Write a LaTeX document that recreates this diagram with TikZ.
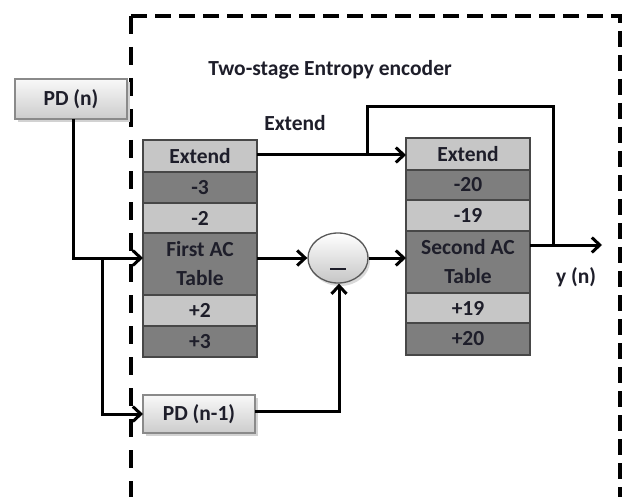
\documentclass[tikz,border=0pt]{standalone}
\usepackage{fontspec}
\setmainfont{Carlito}
\usetikzlibrary{arrows.meta,shapes.geometric,calc}
\definecolor{txt}{HTML}{1E1E2A}
\definecolor{rowlight}{HTML}{C6C6C6}
\definecolor{rowdark}{HTML}{7E7E7E}
\definecolor{rowedge}{HTML}{474747}
\definecolor{boxedge}{HTML}{8A8A8A}
\begin{document}
\begin{tikzpicture}[x=1pt,y=-1pt,
  every node/.style={font=\fontsize{21.5}{29}\selectfont\bfseries, text=txt},
  cell/.style={draw=rowedge, line width=1.8pt, inner sep=0pt, outer sep=0pt,
    anchor=north west, align=center},
  lightcell/.style={cell, fill=rowlight},
  darkcell/.style={cell, fill=rowdark},
  pdbox/.style={draw=boxedge, line width=1.3pt, inner sep=0pt, outer sep=0pt,
    top color=white!95!gray, bottom color=gray!40, anchor=north west},
  arr/.style={line width=3pt, -{Straight Barb[length=8pt,width=15pt,line width=3pt]}},
  wire/.style={line width=3pt}
]
\path[use as bounding box] (0,0) rectangle (628,497);

% encoder boundary
\draw[line width=4.5pt, dash pattern=on 16pt off 8pt] (131,16) -- (620,16) -- (620,497);
\draw[line width=4.5pt, dash pattern=on 18pt off 13pt] (131,16) -- (131,497);

% title and labels
\node (title) at (330,70) {Two-stage Entropy encoder};
\node (extlbl) at (295,123) {Extend};
\node (ylbl) at (576,277) {y (n)};

% input boxes
\fill[gray!35] (18,82) rectangle (130,122);
\node[pdbox, minimum width=112pt, minimum height=40pt] (pdn) at (15,79) {PD (n)};
\fill[gray!35] (146,398) rectangle (258,436);
\node[pdbox, minimum width=112pt, minimum height=38pt] (pdn1) at (143,395) {PD (n-1)};

% first lookup table
\node[lightcell, minimum width=114pt, minimum height=32pt] (e1) at (143,140) {Extend};
\node[darkcell,  minimum width=114pt, minimum height=31pt] (m3) at (143,172) {-3};
\node[lightcell, minimum width=114pt, minimum height=30pt] (m2) at (143,203) {-2};
\node[darkcell,  minimum width=114pt, minimum height=62pt] (t1) at (143,233) {First AC\\Table};
\node[lightcell, minimum width=114pt, minimum height=31pt] (p2) at (143,295) {+2};
\node[darkcell,  minimum width=114pt, minimum height=31pt] (p3) at (143,326) {+3};

% second lookup table
\node[lightcell, minimum width=124pt, minimum height=32pt] (e2) at (406,138) {Extend};
\node[darkcell,  minimum width=124pt, minimum height=30pt] (m20) at (406,170) {-20};
\node[lightcell, minimum width=124pt, minimum height=31pt] (m19) at (406,200) {-19};
\node[darkcell,  minimum width=124pt, minimum height=62pt] (t2) at (406,231) {Second AC\\Table};
\node[lightcell, minimum width=124pt, minimum height=30pt] (p19) at (406,293) {+19};
\node[darkcell,  minimum width=124pt, minimum height=32pt] (p20) at (406,323) {+20};

% subtractor
\fill[gray!30] (340,261) ellipse (30pt and 25pt);
\node[ellipse, draw=gray!70!black, line width=1.3pt, top color=white, bottom color=gray!45,
  minimum width=60pt, minimum height=50pt, inner sep=0pt] (sub) at (338,258) {};
\draw[line width=2.8pt, draw=txt] (330,269) -- (346,269);

% junction points
\coordinate (inbr) at (102,258);
\coordinate (extbr) at (367,155);
\coordinate (extup) at (367,107);
\coordinate (loopc) at (553,107);
\coordinate (outj) at (553,245);
\coordinate (yend) at (602,245);
\coordinate (mincorner) at (339,411);

% connectors
\draw[arr] (pdn.south -| 73,0) |- (inbr) -- (t1.west |- inbr);
\draw[arr] (inbr) |- (pdn1.west);
\draw[arr] (t1.east |- sub.west) -- (sub.west);
\draw[arr] (sub.east) -- (t2.west |- sub.east);
\draw[arr] (pdn1.east |- mincorner) -- (mincorner) -- (sub.south -| mincorner);
\draw[arr] (e1.east |- extbr) -- (e2.west |- extbr);
\draw[wire] (extbr) -- (extup) -- (loopc) -- (outj);
\draw[arr] (t2.east |- outj) -- (yend);
\end{tikzpicture}
\end{document}
